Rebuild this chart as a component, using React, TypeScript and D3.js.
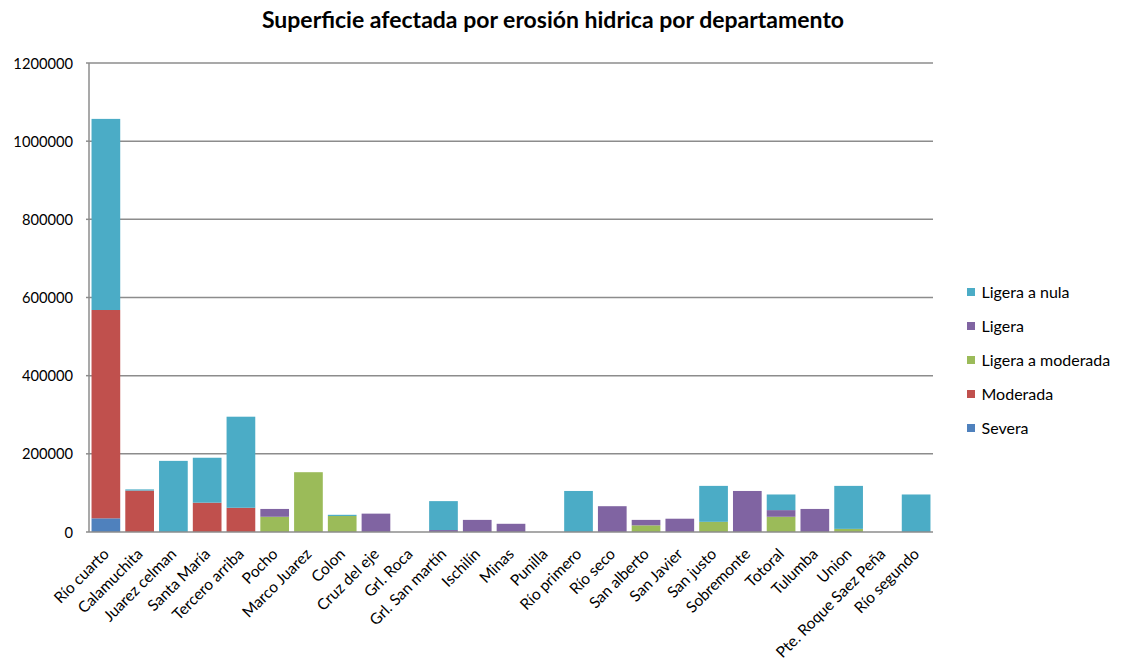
import React from "react";
import * as d3 from "d3";

const categories = [
  "Río cuarto", "Calamuchita", "Juarez celman", "Santa María", "Tercero arriba",
  "Pocho", "Marco Juarez", "Colon", "Cruz del eje", "Grl. Roca",
  "Grl. San martín", "Ischilín", "Minas", "Punilla", "Río primero",
  "Río seco", "San alberto", "San Javier", "San justo", "Sobremonte",
  "Totoral", "Tulumba", "Union", "Pte. Roque Saez Peña", "Río segundo",
];

const severa = [35000, 0, 0, 0, 0, 0, 0, 0, 0, 0, 0, 0, 0, 0, 0, 0, 0, 0, 0, 0, 0, 0, 0, 0, 0];
const moderada = [533000, 106000, 0, 75000, 62000, 0, 0, 0, 0, 0, 0, 0, 0, 0, 0, 0, 0, 0, 0, 0, 0, 0, 0, 0, 0];
const ligeraAModerada = [0, 0, 0, 0, 0, 39000, 153000, 41000, 0, 0, 0, 0, 0, 0, 0, 0, 17000, 0, 26000, 0, 39000, 0, 8000, 0, 0];
const ligera = [0, 0, 0, 0, 0, 20000, 0, 0, 47000, 0, 5000, 31000, 21000, 0, 0, 66000, 14000, 34000, 0, 105000, 17000, 59000, 0, 0, 0];
const ligeraANula = [489000, 3000, 182000, 115000, 233000, 0, 0, 3000, 0, 0, 74000, 0, 0, 0, 105000, 0, 0, 0, 92000, 0, 40000, 0, 110000, 0, 96000];

const seriesNames = ["Severa", "Moderada", "Ligera a moderada", "Ligera", "Ligera a nula"];
const seriesColors = ["#4F81BD", "#C0504D", "#9BBB59", "#8064A2", "#4BACC6"];
const yTicks = [0, 200000, 400000, 600000, 800000, 1000000, 1200000];

const FONT = "Lato, 'Open Sans', sans-serif";

export default function App() {
  const width = 1125;
  const height = 668;
  const left = 89;
  const right = 933;
  const top = 63;
  const bottom = 532;

  const seriesValues = [severa, moderada, ligeraAModerada, ligera, ligeraANula];
  const rows = categories.map((c, i) => {
    const r: Record<string, any> = { cat: c };
    seriesNames.forEach((s, j) => (r[s] = seriesValues[j][i]));
    return r;
  });
  const stacked = d3.stack().keys(seriesNames)(rows as any);

  const x = d3.scaleBand().domain(categories).range([left, right]).paddingInner(0.15).paddingOuter(0.075);
  const y = d3.scaleLinear().domain([0, 1200000]).range([bottom, top]);

  const legendNames = [...seriesNames].reverse();
  const legendColors = [...seriesColors].reverse();

  return (
    <svg width={width} height={height} style={{ position: "absolute", left: 0, top: 0, background: "#fff" }}>
      <text x={553} y={28} textAnchor="middle" fontFamily={FONT} fontWeight="bold" fontSize={23} fill="#000">
        Superficie afectada por erosión hidrica por departamento
      </text>
      {yTicks.map((t) => (
        <g key={t}>
          {t > 0 && (
            <line x1={left} x2={right} y1={y(t)} y2={y(t)} stroke="#8c8c8c" strokeWidth={1.5} />
          )}
          <line x1={left - 3} x2={left} y1={y(t)} y2={y(t)} stroke="#8c8c8c" strokeWidth={1.5} />
          <text x={73} y={y(t) + 5.5} textAnchor="end" fontFamily={FONT} fontSize={14.7} fill="#000">
            {t}
          </text>
        </g>
      ))}
      {stacked.map((s, j) =>
        s.map((d, i) => {
          const h = y(d[0]) - y(d[1]);
          if (h <= 0) return null;
          return (
            <rect
              key={`${j}-${i}`}
              x={x(categories[i])}
              y={y(d[1])}
              width={x.bandwidth()}
              height={h}
              fill={seriesColors[j]}
            />
          );
        })
      )}
      <line x1={left} x2={left} y1={top} y2={bottom} stroke="#8c8c8c" strokeWidth={1.5} />
      <line x1={left} x2={right} y1={bottom} y2={bottom} stroke="#8c8c8c" strokeWidth={1.5} />
      {categories.map((c) => {
        const cx = (x(c) as number) + x.bandwidth() / 2 + 4;
        const cy = 555;
        return (
          <text
            key={c}
            x={cx}
            y={cy}
            transform={`rotate(-45, ${cx}, ${cy})`}
            textAnchor="end"
            fontFamily={FONT}
            fontSize={15.5}
            fill="#000"
          >
            {c}
          </text>
        );
      })}
      {legendNames.map((n, i) => (
        <g key={n} transform={`translate(967, ${292 + i * 34})`}>
          <rect x={0} y={-4} width={8} height={8} fill={legendColors[i]} />
          <text x={14.5} y={5.5} fontFamily={FONT} fontSize={16} fill="#000">
            {n}
          </text>
        </g>
      ))}
    </svg>
  );
}
